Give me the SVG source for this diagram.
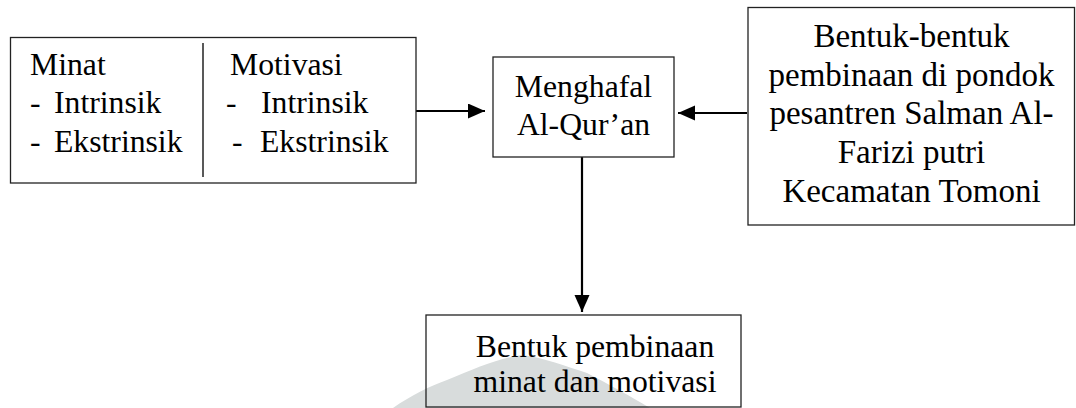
<svg xmlns="http://www.w3.org/2000/svg" width="1076" height="408" viewBox="0 0 1076 408">
<style>
.box{fill:none;stroke:#222;stroke-width:1.3}
text{font-family:'Liberation Serif','Times New Roman','DejaVu Serif',serif;font-size:31.7px;fill:#000}
.c{text-anchor:middle}
.big{font-size:33px}
.con{stroke:#000;stroke-width:2.2;fill:none}
</style>
<defs>
<marker id="ah" markerUnits="userSpaceOnUse" markerWidth="18" markerHeight="16" refX="17" refY="7.5" orient="auto">
<path d="M0,0 L17,7.5 L0,15 z" fill="#000"/>
</marker>
</defs>
<rect width="1076" height="408" fill="#fff"/>
<path d="M393,408 C410,396 430,386 447,380 C475,368 500,358 522,355 C545,358 565,366 587,373 C610,385 630,396 650,408 Z" fill="#d8dcdc"/>
<g id="connectors">
<line class="con" x1="416" y1="111" x2="485" y2="111" marker-end="url(#ah)"/>
<line class="con" x1="747" y1="113" x2="678" y2="113" marker-end="url(#ah)"/>
<line class="con" x1="582" y1="157" x2="582" y2="312" marker-end="url(#ah)"/>
</g>
<g id="node-minat-motivasi" font-family="Liberation Serif, serif">
<rect class="box" x="10.5" y="37.5" width="405.5" height="145.5"/>
<line x1="203" y1="43" x2="203" y2="177" stroke="#222" stroke-width="1.5"/>
<text x="30" y="75">Minat</text>
<text x="30" y="113">-</text>
<text x="54" y="113">Intrinsik</text>
<text x="30" y="152">-</text>
<text x="54" y="152">Ekstrinsik</text>
<text x="230" y="75">Motivasi</text>
<text x="226" y="113">-</text>
<text x="261" y="113">Intrinsik</text>
<text x="232" y="152">-</text>
<text x="260" y="152">Ekstrinsik</text>
</g>
<g id="node-menghafal">
<rect class="box" x="493" y="57" width="181" height="100"/>
<text class="c" x="583.5" y="97">Menghafal</text>
<text class="c" x="583.5" y="135">Al-Qur’an</text>
</g>
<g id="node-bentuk-bentuk">
<rect class="box" x="748" y="7.5" width="326.5" height="217.5"/>
<text class="c big" x="911.5" y="47">Bentuk-bentuk</text>
<text class="c big" x="911.5" y="85.7">pembinaan di pondok</text>
<text class="c big" x="911.5" y="124.4">pesantren Salman Al-</text>
<text class="c big" x="911.5" y="163.1">Farizi putri</text>
<text class="c big" x="911.5" y="201.8">Kecamatan Tomoni</text>
</g>
<g id="node-bentuk-pembinaan">
<rect class="box" x="426" y="315" width="315" height="92"/>
<text class="c" x="595" y="357">Bentuk pembinaan</text>
<text class="c" x="595" y="392">minat dan motivasi</text>
</g>
</svg>
